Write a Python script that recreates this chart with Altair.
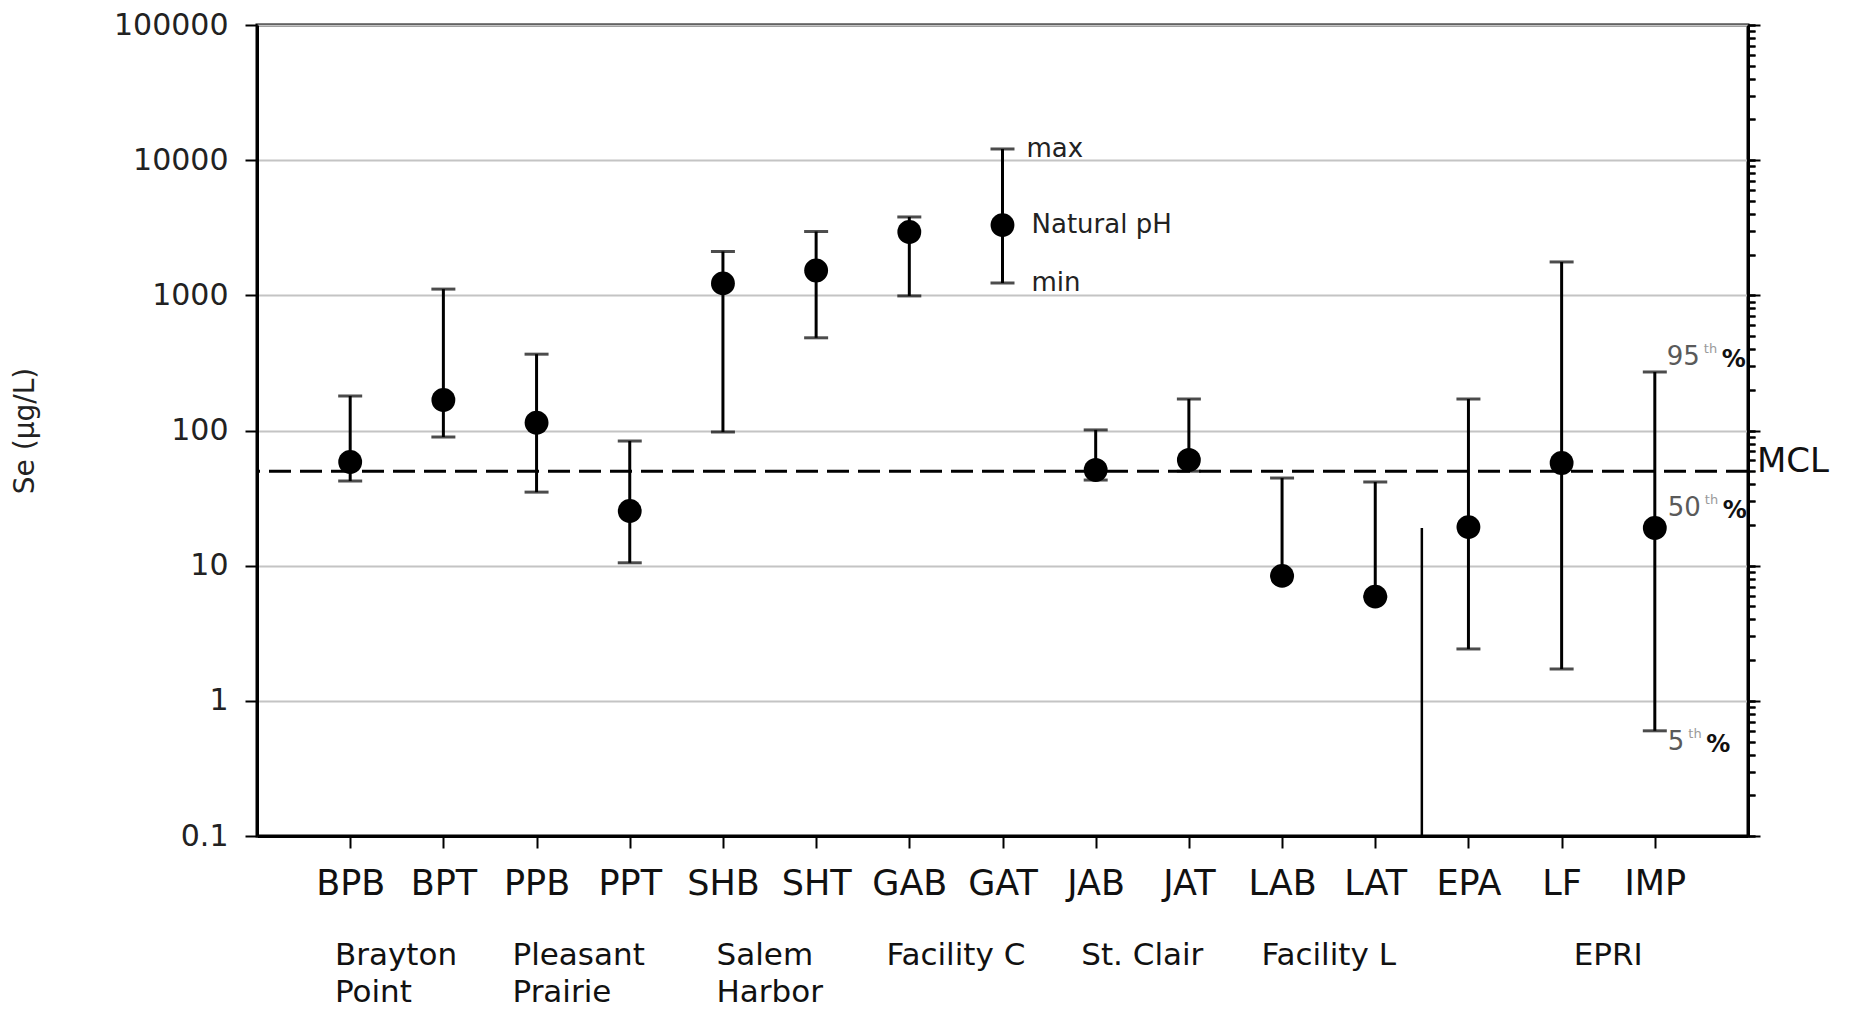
import json
import altair as alt
import pandas as pd

# ---------------- data ----------------
categories = ["BPB", "BPT", "PPB", "PPT", "SHB", "SHT", "GAB", "GAT",
              "JAB", "JAT", "LAB", "LAT", "EPA", "LF", "IMP"]
center_vals = [58.5, 168, 114, 25.4, 1225, 1528, 2940, 3310,
               51, 60.5, 8.4, 5.9, 19.3, 57.5, 19]
max_vals = [180, 1112, 367, 83.6, 2110, 2965, 3800, 12100,
            101, 171, 44.5, 41.6, 171, 1766, 271]
min_vals = [42.3, 89.5, 35, 10.5, 97.5, 485, 990, 1234,
            43, 50, 8.4, 5.9, 2.42, 1.72, 0.60]

group_names = ["Brayton\nPoint", "Pleasant\nPrairie", "Salem\nHarbor",
               "Facility C", "St. Clair", "Facility L", "EPRI"]
group_first = ["BPB", "PPB", "SHB", "GAB", "JAB", "LAB", "LF"]
group_last = ["BPT", "PPT", "SHT", "GAT", "JAT", "LAT", "IMP"]

mcl_value = 50
mcl_label = "MCL"
separator_after = "LAT"
separator_top = 19

y_title = "Se (µg/L)"
y_major_ticks = [0.1, 1, 10, 100, 1000, 10000, 100000]

legend_cat = "GAT"
legend_notes = [("max", "max"), ("center", "Natural pH"), ("min", "min")]
pct_cat = "IMP"
pct_notes = [("max", "95"), ("center", "50"), ("min", "5")]

# ---------------- tables ----------------
df = pd.DataFrame({
    "cat": categories,
    "idx": list(range(1, len(categories) + 1)),
    "center": center_vals,
    "max": max_vals,
    "min": min_vals,
})
idx_of = {c: i + 1 for i, c in enumerate(categories)}

W, H = 1491, 811
FONT = "DejaVu Sans"

xscale = alt.Scale(domain=[0, len(categories) + 1], nice=False, zero=False)
yscale = alt.Scale(type="log", domain=[y_major_ticks[0], y_major_ticks[-1]], nice=False)

minor_ticks = [m * 10 ** e for e in range(-1, 5) for m in range(1, 10)] + [y_major_ticks[-1]]

x_axis = alt.Axis(
    values=list(range(1, len(categories) + 1)),
    labelExpr=json.dumps(categories) + "[datum.value - 1]",
    title=None, grid=False, tickSize=12, tickWidth=2, tickColor="black",
    domainColor="black", domainWidth=3, labelFontSize=35, labelPadding=18,
    labelColor="#111", labelFlush=False, labelOverlap=False, labelFont=FONT,
)

left_major = alt.Axis(
    values=y_major_ticks, format="~g", title=y_title, grid=True,
    gridColor="#c4c4c4", gridWidth=2, tickSize=12, tickWidth=2, tickColor="black",
    domainColor="black", domainWidth=3, labelFontSize=30, labelPadding=17,
    labelColor="#222", labelFlush=False, labelOverlap=False, labelFont=FONT,
    titleFont=FONT, titleFontSize=28, titleFontWeight="normal", titleColor="#222",
    titlePadding=74,
)
left_minor = alt.Axis(
    values=minor_ticks, labels=False, title=None, grid=False, domain=False,
    tickSize=7, tickWidth=2, tickColor="black",
)
right_major = alt.Axis(
    orient="right", values=y_major_ticks, labels=False, title=None, grid=False,
    tickSize=12, tickWidth=2, tickColor="black", domainColor="black", domainWidth=3,
)
right_minor = alt.Axis(
    orient="right", values=minor_ticks, labels=False, title=None, grid=False,
    domain=False, tickSize=7, tickWidth=2, tickColor="black",
)

base = alt.Chart(df)


def axis_layer(yaxis, xaxis=None):
    return base.mark_circle(opacity=0, size=1).encode(
        x=alt.X("idx:Q", scale=xscale, axis=xaxis),
        y=alt.Y("center:Q", scale=yscale, axis=yaxis),
    )


layers = [
    axis_layer(left_major, x_axis),
    axis_layer(left_minor),
    axis_layer(right_major),
    axis_layer(right_minor),
]

# whiskers
layers.append(base.mark_rule(strokeWidth=3, color="black").encode(
    x=alt.X("idx:Q", scale=xscale, axis=None),
    y=alt.Y("min:Q", scale=yscale, axis=None),
    y2="max:Q",
))
for stat in ["max", "min"]:
    layers.append(base.mark_tick(orient="horizontal", size=24, thickness=3, color="black").encode(
        x=alt.X("idx:Q", scale=xscale, axis=None),
        y=alt.Y(f"{stat}:Q", scale=yscale, axis=None),
    ))

# MCL dashed line
mcl_df = pd.DataFrame({"v": [mcl_value], "t": [mcl_label]})
layers.append(alt.Chart(mcl_df).mark_rule(strokeDash=[22, 9], strokeWidth=3, color="black").encode(
    y=alt.Y("v:Q", scale=yscale, axis=None),
))
layers.append(alt.Chart(mcl_df).mark_text(
    align="left", baseline="middle", dy=-9, fontSize=34, font=FONT, color="#111"
).encode(
    x=alt.value(W + 9),
    y=alt.Y("v:Q", scale=yscale, axis=None),
    text="t:N",
))

# separator line
sep_df = pd.DataFrame({"idx": [idx_of[separator_after] + 0.5],
                       "lo": [y_major_ticks[0]], "hi": [separator_top]})
layers.append(alt.Chart(sep_df).mark_rule(strokeWidth=2.5, color="black").encode(
    x=alt.X("idx:Q", scale=xscale, axis=None),
    y=alt.Y("lo:Q", scale=yscale, axis=None),
    y2="hi:Q",
))

# points
layers.append(base.mark_circle(size=570, color="black", opacity=1).encode(
    x=alt.X("idx:Q", scale=xscale, axis=None),
    y=alt.Y("center:Q", scale=yscale, axis=None),
))

row = df.set_index("cat")

# legend-like notes next to GAT
for stat, txt in legend_notes:
    ndf = pd.DataFrame({"idx": [idx_of[legend_cat]], "v": [row.loc[legend_cat, stat]], "t": [txt]})
    layers.append(alt.Chart(ndf).mark_text(
        align="left", baseline="middle", dx=24 if stat == "max" else 29,
        fontSize=26, font=FONT, color="#222"
    ).encode(
        x=alt.X("idx:Q", scale=xscale, axis=None),
        y=alt.Y("v:Q", scale=yscale, axis=None),
        text="t:N",
    ))

# percentile notes next to IMP
pct_off = {"max": (12, -15), "center": (13, -20), "min": (13, 11)}
for stat, txt in pct_notes:
    dx0, dy0 = pct_off[stat]
    v = row.loc[pct_cat, stat]
    th_dx = dx0 + len(txt) * 16.5 + 4
    parts = [
        (txt, dx0, dy0, 26, "normal", "#5a5a5a"),
        ("th", th_dx, dy0 - 8, 13, "normal", "#9a9a9a"),
        ("%", th_dx + 18, dy0 + 3, 24, "bold", "#111"),
    ]
    for t, dx, dy, fs, fw, col in parts:
        ndf = pd.DataFrame({"idx": [idx_of[pct_cat]], "v": [v], "t": [t]})
        layers.append(alt.Chart(ndf).mark_text(
            align="left", baseline="middle", dx=dx, dy=dy, fontSize=fs,
            fontWeight=fw, font=FONT, color=col
        ).encode(
            x=alt.X("idx:Q", scale=xscale, axis=None),
            y=alt.Y("v:Q", scale=yscale, axis=None),
            text="t:N",
        ))

# group labels under the category axis
GFS = 31
for name, first, last in zip(group_names, group_first, group_last):
    mid = (idx_of[first] + idx_of[last]) / 2
    gdf = pd.DataFrame({"idx": [mid], "t": [name]})
    lines = name.split("\n")
    if len(lines) > 1:
        kw = dict(align="left", dx=-max(len(l) for l in lines) * 0.57 * GFS / 2)
    else:
        kw = dict(align="center")
    layers.append(alt.Chart(gdf).mark_text(
        baseline="top", fontSize=GFS, font=FONT, color="#111",
        lineBreak="\n", lineHeight=37, **kw
    ).encode(
        x=alt.X("idx:Q", scale=xscale, axis=None),
        y=alt.value(916),
        text="t:N",
    ))

chart = alt.layer(*layers).resolve_axis(
    x="independent", y="independent"
).properties(
    width=W, height=H,
    autosize=alt.AutoSizeParams(type="none"),
    padding={"left": 257, "top": 25, "right": 104, "bottom": 173},
    background="white",
).configure(font=FONT).configure_view(stroke="black", strokeWidth=3)

chart.save("out.html", embed_options={"renderer": "svg", "actions": False})
